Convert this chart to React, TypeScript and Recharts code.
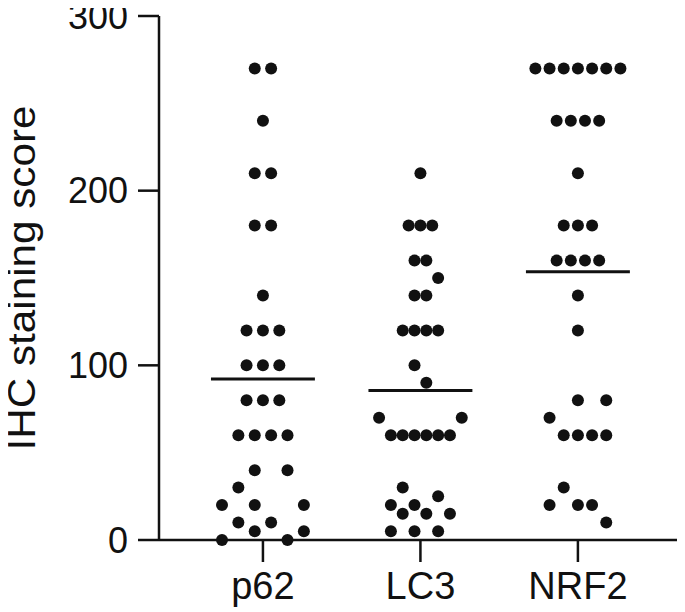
import React from "react";
import { ScatterChart, Scatter, XAxis, YAxis, ReferenceLine, Label } from "recharts";

const categories = ["p62", "LC3", "NRF2"];
const yTicks = [0, 100, 200, 300];

// IHC staining scores per marker (one entry per sample)
const p62Values = [270, 270, 240, 210, 210, 180, 180, 140, 120, 120, 120, 100, 100, 100, 80, 80, 80, 60, 60, 60, 60, 40, 40, 30, 20, 20, 20, 10, 10, 5, 5, 0, 0];
const p62Slots = [-1, 1, 0, -1, 1, -1, 1, 0, -2, 0, 2, -2, 0, 2, -2, 0, 2, -3, -1, 1, 3, -1, 3, -3, -5, -1, 5, -3, 1, -1, 5, -5, 3];

const lc3Values = [210, 180, 180, 180, 160, 160, 150, 140, 140, 120, 120, 120, 120, 100, 90, 70, 70, 60, 60, 60, 60, 60, 60, 30, 25, 20, 20, 15, 15, 15, 5, 5, 5];
const lc3Slots = [0, -2, 0, 2, -1, 1, 3, -1, 1, -3, -1, 1, 3, -1, 1, -7, 7, -5, -3, -1, 1, 3, 5, -3, 3, -5, -1, -3, 1, 5, -5, -1, 3];

const nrf2Values = [270, 270, 270, 270, 270, 270, 270, 240, 240, 240, 240, 210, 180, 180, 180, 160, 160, 160, 160, 140, 120, 80, 80, 70, 60, 60, 60, 60, 30, 20, 20, 20, 10];
const nrf2Slots = [-6, -4, -2, 0, 2, 4, 6, -3, -1, 1, 3, 0, -2, 0, 2, -3, -1, 1, 3, 0, 0, 0, 4, -4, -2, 0, 2, 4, -2, -4, 0, 2, 4];

const groups = [
  { values: p62Values, slots: p62Slots, slotWidth: 0.052 },
  { values: lc3Values, slots: lc3Slots, slotWidth: 0.0375 },
  { values: nrf2Values, slots: nrf2Slots, slotWidth: 0.045 },
];

const points = groups.flatMap((g, gi) =>
  g.values.map((v, i) => ({ x: gi + g.slots[i] * g.slotWidth, y: v }))
);
const means = groups.map((g) => g.values.reduce((a, b) => a + b, 0) / g.values.length);

const FONT = "'Liberation Sans', Arial, sans-serif";
const INK = "#111";

const Dot = (props: any) => <circle cx={props.cx} cy={props.cy} r={6} fill={INK} />;

const YLabel = (props: any) => {
  const vb = props.viewBox || { x: 0, y: 0, width: 0, height: 0 };
  const x = vb.x + 35;
  const y = vb.y + vb.height / 2;
  return (
    <text
      x={x}
      y={y}
      transform={`rotate(-90, ${x}, ${y})`}
      textAnchor="middle"
      fontSize={38}
      textLength={345}
      lengthAdjust="spacingAndGlyphs"
      fontFamily={FONT}
      fill={INK}
    >
      IHC staining score
    </text>
  );
};

export default function App() {
  return (
    <div style={{ width: 685, height: 612, marginTop: -8, marginLeft: -8 }}>
      <ScatterChart width={685} height={612} margin={{ top: 16, right: 0, bottom: 0, left: 0 }}>
        <XAxis
          type="number"
          dataKey="x"
          domain={[-0.66, 2.68]}
          ticks={[0, 1, 2]}
          interval={0}
          allowDataOverflow
          tickFormatter={(v: number) => categories[v] ?? ""}
          height={72}
          tickSize={22}
          tickMargin={10}
          axisLine={{ stroke: INK, strokeWidth: 2.5 }}
          tickLine={{ stroke: INK, strokeWidth: 2.5 }}
          tick={{ fontSize: 38, fill: INK, fontFamily: FONT }}
        />
        <YAxis
          type="number"
          dataKey="y"
          domain={[0, 300]}
          ticks={yTicks}
          interval={0}
          width={159}
          tickSize={21}
          tickMargin={10}
          axisLine={{ stroke: INK, strokeWidth: 2.5 }}
          tickLine={{ stroke: INK, strokeWidth: 2.5 }}
          tick={{ fontSize: 36, fill: INK, fontFamily: FONT }}
          label={<Label content={YLabel} />}
        />
        {means.map((m, i) => (
          <ReferenceLine
            key={i}
            segment={[
              { x: i - 0.33, y: m },
              { x: i + 0.33, y: m },
            ]}
            stroke={INK}
            strokeWidth={3}
            ifOverflow="visible"
          />
        ))}
        <Scatter data={points} shape={Dot} isAnimationActive={false} />
      </ScatterChart>
    </div>
  );
}
